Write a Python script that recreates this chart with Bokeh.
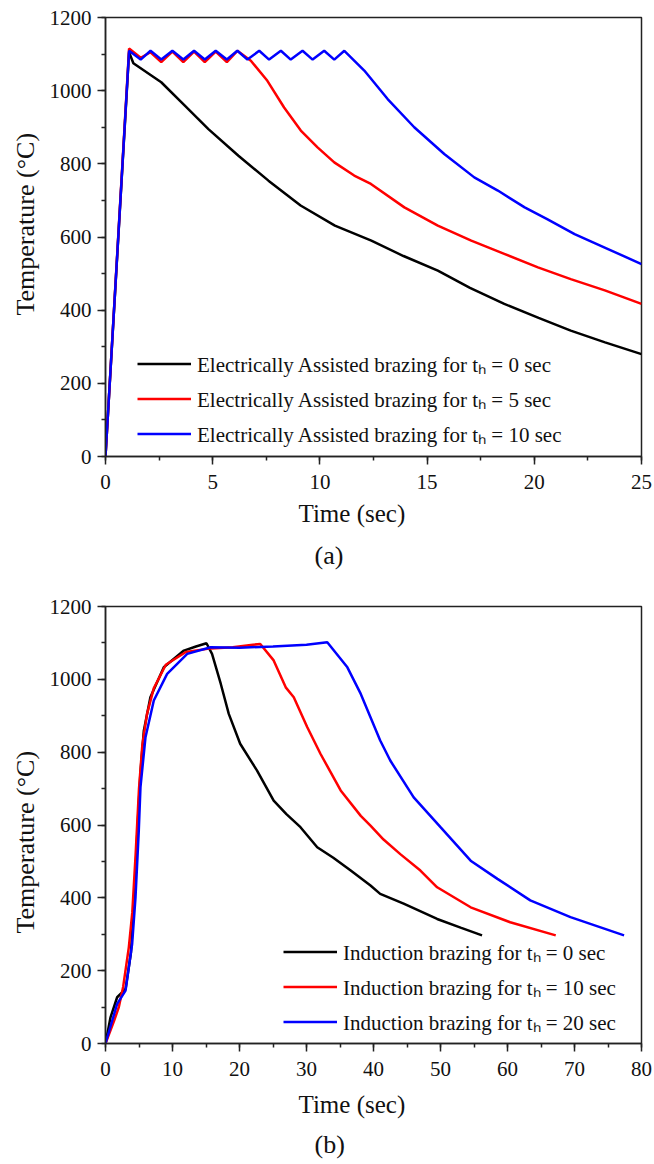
from bokeh.plotting import figure
from bokeh.models import SingleIntervalTicker, Legend, LegendItem, Title, Range1d
from bokeh.layouts import column
from bokeh.embed import file_html
from bokeh.resources import INLINE

FONT = "Liberation Serif"

# ---------------- Panel (a): electrically assisted brazing ----------------
a_t_0 = [0, 1.1, 1.3, 2.6, 3.7, 4.8, 6.2, 7.6, 9.1, 10.7, 12.4, 13.9, 15.5, 17.0, 18.6, 20.2, 21.7, 23.3, 25.0]
a_v_0 = [0, 1105, 1075, 1023, 959, 895, 822, 754, 686, 631, 590, 548, 508, 461, 417, 379, 344, 312, 280]

a_t_5 = [0, 1.1, 1.64, 2.1, 2.6, 3.12, 3.63, 4.13, 4.63, 5.14, 5.66, 6.15, 6.78, 7.55, 8.33, 9.11, 9.89,
         10.67, 11.6, 12.38, 13.94, 15.5, 17.06, 18.6, 20.17, 21.7, 23.29, 25.0]
a_v_5 = [0, 1115, 1090, 1105, 1078, 1107, 1078, 1107, 1078, 1107, 1078, 1109, 1082, 1027, 954, 891, 845,
         804, 768, 745, 681, 631, 590, 554, 517, 485, 454, 417]

a_t_10 = [0, 1.1, 1.64, 2.1, 2.6, 3.12, 3.63, 4.13, 4.63, 5.14, 5.66, 6.15, 6.62, 7.17, 7.63, 8.18, 8.64,
          9.19, 9.66, 10.2, 10.67, 11.14, 12.07, 13.16, 14.4, 15.8, 17.2, 18.3, 19.55, 20.6, 21.88, 23.44, 25.0]
a_v_10 = [0, 1109, 1085, 1109, 1085, 1109, 1085, 1109, 1085, 1109, 1085, 1109, 1085, 1109, 1085, 1109, 1085,
          1109, 1085, 1109, 1085, 1109, 1055, 977, 900, 827, 763, 727, 681, 649, 608, 567, 526]

a_labels = ["Electrically Assisted brazing for t\u2095 = 0 sec",
            "Electrically Assisted brazing for t\u2095 = 5 sec",
            "Electrically Assisted brazing for t\u2095 = 10 sec"]

# ---------------- Panel (b): induction brazing ----------------
b_t_0 = [0, 0.75, 1.74, 2.74, 3.0, 3.8, 4.3, 4.8, 5.2, 5.72, 6.7, 8.7, 11.7, 13.5, 15.07, 15.9, 17.2, 18.4,
         20.1, 22.6, 25.1, 27.0, 29.1, 31.6, 34.0, 36.6, 39.55, 41.0, 44.5, 49.5, 53.0, 56.2]
b_v_0 = [0, 72, 127, 145, 150, 250, 400, 600, 740, 859, 951, 1033, 1079, 1090, 1099, 1070, 988, 905,
         823, 750, 667, 630, 594, 539, 510, 475, 434, 411, 384, 342, 318, 297]

b_t_10 = [0, 1.24, 1.99, 2.64, 3.48, 4.0, 4.5, 5.0, 5.5, 6.2, 7.2, 9.0, 12.0, 15.7, 19.0, 22.0, 23.1, 25.1,
          26.9, 28.1, 30.1, 32.1, 35.1, 38.1, 39.55, 41.5, 44.0, 47.0, 49.5, 54.5, 60.4, 67.2]
b_v_10 = [0, 60, 100, 156, 264, 360, 520, 700, 820, 905, 975, 1040, 1075, 1085, 1088, 1095, 1097, 1052,
          978, 951, 869, 795, 695, 625, 598, 560, 520, 475, 429, 374, 333, 297]

b_t_20 = [0, 1.74, 2.99, 3.98, 4.48, 4.97, 5.22, 5.97, 7.21, 9.2, 12.2, 15.7, 20.0, 25.0, 30.0, 33.1,
          36.1, 38.1, 39.55, 41.0, 42.5, 46.0, 50.0, 54.5, 58.5, 63.4, 69.4, 77.4]
b_v_20 = [0, 109, 145, 274, 402, 585, 704, 841, 942, 1015, 1070, 1088, 1087, 1090, 1095, 1102,
          1033, 960, 896, 832, 777, 676, 594, 502, 452, 393, 347, 297]

b_labels = ["Induction brazing for t\u2095 = 0 sec",
            "Induction brazing for t\u2095 = 10 sec",
            "Induction brazing for t\u2095 = 20 sec"]

COLORS = ["#000000", "#ff0000", "#0000ff"]
AXIS_COLOR = "#222222"


def make_panel(height, top, bottom, xmax, xint, series, labels, legend_loc,
               ylab_offset, xlab_offset, xlab_standoff, tag_offset, tag_standoff, tag):
    p = figure(width=654, height=height, x_range=Range1d(0, xmax), y_range=Range1d(0, 1200),
               output_backend="svg", toolbar_location=None,
               min_border_left=105, min_border_right=13, min_border_top=top, min_border_bottom=bottom)
    p.grid.visible = False
    p.outline_line_color = AXIS_COLOR
    p.outline_line_width = 1.5
    p.background_fill_color = "white"
    p.border_fill_color = "white"

    p.xaxis.ticker = SingleIntervalTicker(interval=xint, num_minor_ticks=2)
    p.yaxis.ticker = SingleIntervalTicker(interval=200, num_minor_ticks=2)
    for ax in (p.xaxis[0], p.yaxis[0]):
        ax.axis_line_color = AXIS_COLOR
        ax.axis_line_width = 1.5
        ax.major_tick_line_color = AXIS_COLOR
        ax.minor_tick_line_color = AXIS_COLOR
        ax.major_tick_line_width = 1.5
        ax.minor_tick_line_width = 1.5
        ax.major_tick_in = 0
        ax.major_tick_out = 8
        ax.minor_tick_in = 0
        ax.minor_tick_out = 4
        ax.major_label_text_font = FONT
        ax.major_label_text_font_size = "21px"
        ax.major_label_text_color = "#111111"
    p.xaxis[0].major_label_standoff = 10
    p.yaxis[0].major_label_standoff = 6

    items = []
    for (tx, vy), col, lab in zip(series, COLORS, labels):
        r = p.line(tx, vy, line_color=col, line_width=2.5)
        items.append(LegendItem(label=lab, renderers=[r]))

    leg = Legend(items=items, location=legend_loc)
    leg.border_line_color = None
    leg.background_fill_alpha = 0
    leg.padding = 0
    leg.margin = 0
    leg.spacing = 0
    leg.glyph_width = 54
    leg.glyph_height = 35
    leg.label_height = 35
    leg.label_standoff = 6
    leg.label_text_font = FONT
    leg.label_text_font_size = "21px"
    leg.label_text_color = "#111111"
    p.add_layout(leg)

    ylab = Title(text="Temperature (\u00b0C)", align="left", offset=ylab_offset,
                 text_font=FONT, text_font_size="26px", text_font_style="normal",
                 text_color="#111111", standoff=14)
    p.add_layout(ylab, "left")

    xlab = Title(text="Time (sec)", align="left", offset=xlab_offset,
                 text_font=FONT, text_font_size="25px", text_font_style="normal",
                 text_color="#111111", standoff=xlab_standoff)
    p.add_layout(xlab, "below")

    tg = Title(text=tag, align="left", offset=tag_offset,
               text_font=FONT, text_font_size="26px", text_font_style="normal",
               text_color="#111111", standoff=tag_standoff)
    p.add_layout(tg, "below")
    return p


p1 = make_panel(583, 17, 127, 25, 5,
                [(a_t_0, a_v_0), (a_t_5, a_v_5), (a_t_10, a_v_10)], a_labels,
                (32, 5), 141, 193, 12, 209, 12, "(a)")
p2 = make_panel(581, 23, 121, 80, 10,
                [(b_t_0, b_v_0), (b_t_10, b_v_10), (b_t_20, b_v_20)], b_labels,
                (178, 4), 110, 193, 20, 209, 0, "(b)")

layout = column(p1, p2, spacing=0)
open("out.html", "w").write(file_html(layout, INLINE))
